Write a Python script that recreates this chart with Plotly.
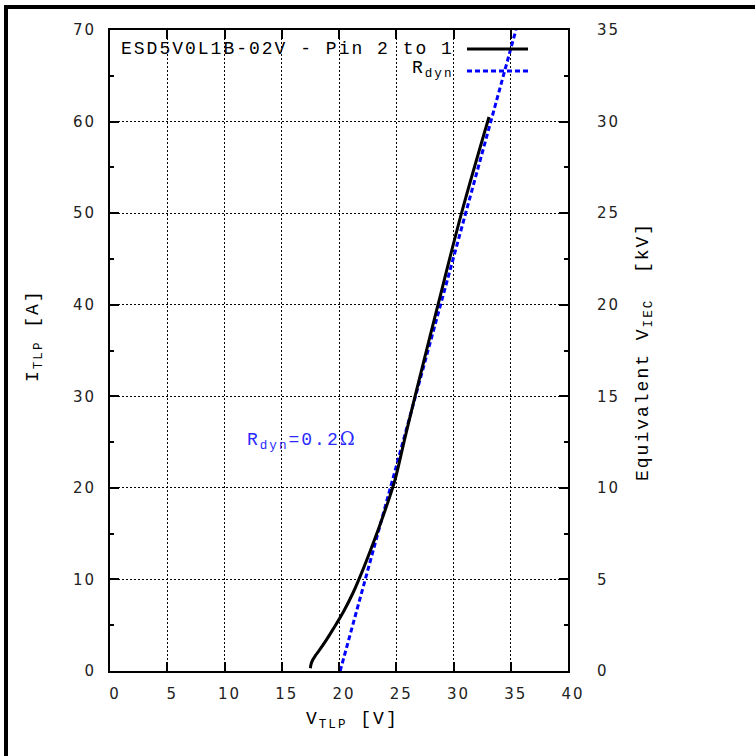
import plotly.graph_objects as go

# Measured TLP curve (V_TLP [V], I_TLP [A])
v_tlp = [17.5, 17.55, 17.7, 17.95, 18.3, 18.9, 19.5, 20.4, 21.25, 22.1, 23.0, 23.9,
         24.45, 24.9, 25.75, 26.64, 28.65, 30.7, 33.1]
i_tlp = [0.3, 0.7, 1.2, 1.7, 2.3, 3.4, 4.6, 6.5, 8.6, 11.1, 14.0, 17.1,
         19.1, 20.9, 25.4, 30.0, 40.0, 50.0, 60.5]

# Dynamic resistance fit line
v_rdyn = [20.1, 35.45]
i_rdyn = [0.0, 70.0]

x_ticks = [0, 5, 10, 15, 20, 25, 30, 35, 40]
y_ticks = [0, 10, 20, 30, 40, 50, 60, 70]
y2_ticks = [0, 5, 10, 15, 20, 25, 30, 35]

legend_names = ["ESD5V0L1B-02V - Pin 2 to 1", "R<sub>dyn</sub>"]
rdyn_label = "R<sub>dyn</sub>=0.2<span style='font-family:DejaVu Serif'>Ω</span>"
x_title = "V<sub>TLP</sub> [V]"
y_title = "I<sub>TLP</sub> [A]"
y2_title = "Equivalent V<sub>IEC</sub>\u00a0\u00a0[kV]"

MONO = "Liberation Mono"
TICKF = "DejaVu Sans"
LS = "letter-spacing:2px"

# plot area in page pixels
PL, PR, PT, PB = 110, 568, 30, 671


def sp(t, ls=LS):
    return f"<span style='{ls}'>{t}</span>"


fig = go.Figure()
fig.add_trace(go.Scatter(x=v_rdyn, y=i_rdyn, mode="lines",
                         line=dict(color="#0000ff", width=3, dash="5px,3px"),
                         showlegend=False, hoverinfo="skip"))
fig.add_trace(go.Scatter(x=v_tlp, y=i_tlp, mode="lines", line_shape="spline",
                         line=dict(color="black", width=3, smoothing=1.0),
                         showlegend=False, hoverinfo="skip"))
# invisible trace to activate the right axis
fig.add_trace(go.Scatter(x=[0], y=[0], yaxis="y2", mode="markers",
                         marker=dict(opacity=0), showlegend=False, hoverinfo="skip"))

grid = dict(showgrid=True, gridcolor="black", gridwidth=1, griddash="2px,2px")
axline = dict(showline=True, linecolor="black", linewidth=2, ticks="inside",
              tickcolor="black", tickwidth=1.5, ticklen=9, zeroline=False)

fig.update_layout(
    width=755, height=756,
    margin=dict(l=PL, r=755 - PR, t=PT, b=756 - PB),
    paper_bgcolor="white", plot_bgcolor="white",
    showlegend=False,
    xaxis=dict(range=[0, 40], tickvals=x_ticks,
               ticktext=[sp(str(t)) for t in x_ticks],
               tickfont=dict(family=TICKF, size=15, color="#222"),
               mirror="ticks", ticklabelstandoff=8, ticklabelshift=5, **axline, **grid),
    yaxis=dict(range=[0, 70], tickvals=y_ticks,
               ticktext=[sp(str(t)) for t in y_ticks],
               tickfont=dict(family=TICKF, size=15, color="#222"),
               ticklabelstandoff=9,
               minor=dict(dtick=5, ticks="inside", ticklen=4, tickcolor="black", showgrid=False),
               **axline, **grid),
    yaxis2=dict(range=[0, 35], overlaying="y", side="right", tickvals=y2_ticks,
                ticktext=[sp(str(t)) for t in y2_ticks],
                tickfont=dict(family=TICKF, size=15, color="#222"),
                ticklabelstandoff=24, showgrid=False,
                minor=dict(dtick=2.5, ticks="inside", ticklen=4, tickcolor="black"),
                **axline),
)


def px2paper(px, py):
    return (px - PL) / float(PR - PL), (PB - py) / float(PB - PT)


anns = []
x, y = px2paper(35, 336)
anns.append(dict(x=x, y=y, text=sp(y_title), textangle=-90))
x, y = px2paper(352, 720)
anns.append(dict(x=x, y=y, text=sp(x_title)))
x, y = px2paper(645, 352)
anns.append(dict(x=x, y=y, text=sp(y2_title), textangle=-90))
x, y = px2paper(456, 49)
anns.append(dict(x=x, y=y, text=sp(legend_names[0]), xanchor="right"))
x, y = px2paper(456, 70)
anns.append(dict(x=x, y=y, text=sp(legend_names[1]), xanchor="right"))
for a in anns:
    a.update(xref="paper", yref="paper", showarrow=False,
             font=dict(family=MONO, size=18, color="black"))
    a.setdefault("xanchor", "center")
    a.setdefault("yanchor", "middle")
x, y = px2paper(302, 440)
anns.append(dict(x=x, y=y, xref="paper", yref="paper", text=sp(rdyn_label),
                 showarrow=False, font=dict(family=MONO, size=18, color="#2a2aff")))
fig.update_layout(annotations=anns)

# legend sample lines
x0, y0 = px2paper(467, 49)
x1, _ = px2paper(528, 49)
fig.add_shape(type="line", xref="paper", yref="paper", x0=x0, x1=x1, y0=y0, y1=y0,
              line=dict(color="black", width=3))
x0, y0 = px2paper(467, 71)
fig.add_shape(type="line", xref="paper", yref="paper", x0=x0, x1=x1, y0=y0, y1=y0,
              line=dict(color="#0000ff", width=3, dash="5px,3px"))
# outer frame (left and top edges visible)
bx0, by1 = px2paper(6, 7)
fig.add_shape(type="rect", xref="paper", yref="paper", x0=bx0, y0=-0.5, x1=1.6, y1=by1,
              line=dict(color="black", width=4), layer="below")

fig.write_html("out.html", config={"displayModeBar": False},
               post_script="document.body.style.margin='0px';")
